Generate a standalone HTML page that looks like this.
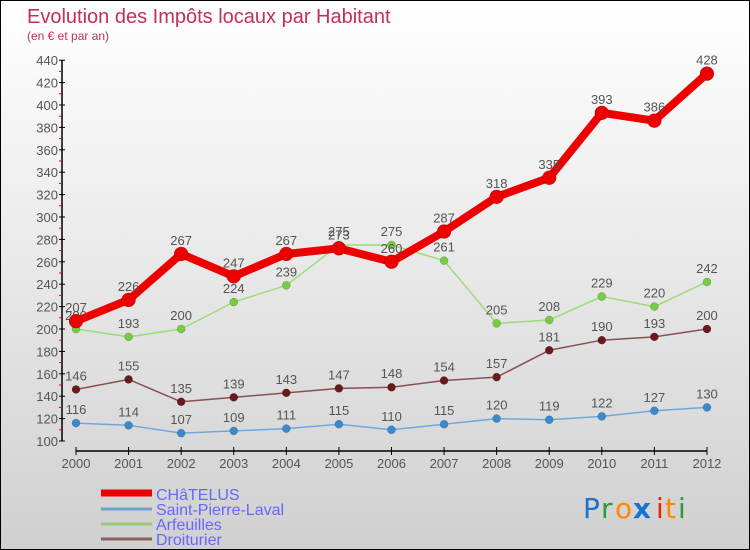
<!DOCTYPE html>
<html><head><meta charset="utf-8"><style>
body{margin:0}
#wrap{position:relative;width:748px;height:548px;border:1px solid #000;background:linear-gradient(#ffffff,#d0d0d0);font-family:"Liberation Sans","DejaVu Sans",sans-serif;overflow:hidden}
</style></head><body>
<div id="wrap">
<svg id="c" width="748" height="548" xmlns="http://www.w3.org/2000/svg">
<text x="26" y="22" font-size="20" fill="#c0305a">Evolution des Impôts locaux par Habitant</text>
<text x="26" y="39" font-size="12" fill="#c0305a">(en € et par an)</text>
<g id="axes"></g><g id="series"></g>
<g>
<line x1="100" y1="492" x2="151" y2="492" stroke="#ee0000" stroke-width="7"/>
<text x="155" y="499" font-size="16" fill="#6666ff">CHâTELUS</text>
<line x1="100" y1="508" x2="151" y2="508" stroke="#6fa0c8" stroke-width="3"/>
<text x="155" y="514" font-size="16" fill="#6666ff">Saint-Pierre-Laval</text>
<line x1="100" y1="523" x2="151" y2="523" stroke="#99cc77" stroke-width="3"/>
<text x="155" y="529" font-size="16" fill="#6666ff">Arfeuilles</text>
<line x1="100" y1="538" x2="151" y2="538" stroke="#8a6060" stroke-width="3"/>
<text x="155" y="544" font-size="16" fill="#6666ff">Droiturier</text>
</g>
<g font-size="28" font-family="'DejaVu Sans',sans-serif">
<text x="582" y="517" fill="#1a73d0">P</text><text x="600" y="517" fill="#2a9a3a">r</text><text x="614" y="517" fill="#ff8800">o</text><text x="632" y="517" fill="#1a73d0" font-weight="bold">x</text><text x="655" y="517" fill="#ee2200">i</text><text x="664" y="517" fill="#ff8800">t</text><text x="677" y="517" fill="#2a9a3a">i</text>
</g>
</svg></div>
<script>
const years=[2000,2001,2002,2003,2004,2005,2006,2007,2008,2009,2010,2011,2012];
const chatelus=[207,226,267,247,267,272,260,287,318,335,393,386,428];
const chatelusLabels=[207,226,267,247,267,273,260,287,318,335,393,386,428];
const spl=[116,114,107,109,111,115,110,115,120,119,122,127,130];
const arfeuilles=[200,193,200,224,239,275,275,261,205,208,229,220,242];
const droiturier=[146,155,135,139,143,147,148,154,157,181,190,193,200];
const yTicks=[100,120,140,160,180,200,220,240,260,280,300,320,340,360,380,400,420,440];
const NS="http://www.w3.org/2000/svg";
const X=i=>75+i*52.58;
const Y=v=>440-(v-100)*112/100;
function mk(t,a,p){const e=document.createElementNS(NS,t);for(const k in a)e.setAttribute(k,a[k]);p.appendChild(e);return e;}
const ax=document.getElementById('axes'),sr=document.getElementById('series');
const yl=mk('line',{x1:61,y1:Y(440),x2:61,y2:Y(100),stroke:'#000','stroke-width':1.5},ax);


yTicks.forEach(v=>{
 mk('line',{x1:58,y1:Y(v),x2:64,y2:Y(v),stroke:'#000'},ax);
 if(v<440)mk('line',{x1:58,y1:Y(v+10),x2:61,y2:Y(v+10),stroke:'#e00'},ax);
 const t=mk('text',{x:57,y:Y(v)+5,'font-size':13,fill:'#555','text-anchor':'end'},ax);t.textContent=v;
 
 
});
const xl=mk('line',{x1:X(0),y1:450,x2:X(12),y2:450,stroke:'#000','stroke-width':1.5},ax);


years.forEach((y,i)=>{
 mk('line',{x1:X(i),y1:446,x2:X(i),y2:454,stroke:'#000'},ax);
 const t=mk('text',{x:X(i),y:467,'font-size':13,fill:'#555','text-anchor':'middle'},ax);t.textContent=y;
 
 
});
function series(vals,labels,color,dot,w,r,name){
 const g=mk('g',{},sr);
 
 
 mk('polyline',{points:vals.map((v,i)=>X(i)+','+Y(v)).join(' '),fill:'none',stroke:color,'stroke-width':w,'stroke-linejoin':'round'},g);
 vals.forEach((v,i)=>{
  const c=mk('circle',{cx:X(i),cy:Y(v),r:r,fill:dot,stroke:'rgba(0,0,0,0.3)','stroke-width':0.5},g);
  
  
  const t=mk('text',{x:X(i),y:Y(v)-9,'font-size':13,fill:'#555','text-anchor':'middle'},g);t.textContent=labels[i];
  
  
 });
}
series(spl,spl,'#6fa8dc','#3a8ad0',1.5,4,'saint-pierre-laval');
series(droiturier,droiturier,'#8a5050','#6a1a1a',1.5,4,'droiturier');
series(arfeuilles,arfeuilles,'#99dd77','#77cc44',1.5,4,'arfeuilles');
series(chatelus,chatelusLabels,'#ee0000','#ee0000',8,7,'chatelus');
</script>
</body></html>
